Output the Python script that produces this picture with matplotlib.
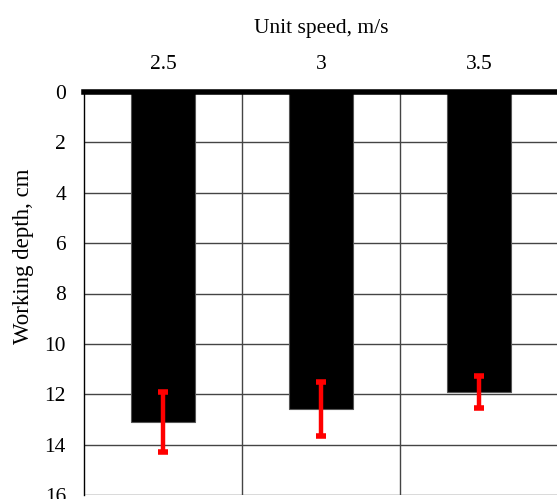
import numpy as np
import matplotlib.pyplot as plt

speeds = ["2.5", "3", "3.5"]
depth = [13.1, 12.6, 11.9]
err = [1.2, 1.07, 0.63]

plt.rcParams['font.family'] = ['Liberation Serif', 'DejaVu Serif']

fig = plt.figure(figsize=(5.57, 4.99), dpi=100)
ax = fig.add_axes([84/557, 4/499, 474/557, 403/499])

x = np.arange(len(speeds))
ax.bar(x, depth, width=0.4, color='black', edgecolor='#555555', linewidth=0.8, zorder=3)
ax.errorbar(x, depth, yerr=err, fmt='none', ecolor='red', elinewidth=3.2,
            capsize=3.5, capthick=4, zorder=4)

ax.set_xlim(-0.5, 2.5)
ax.set_ylim(16, 0)
ax.set_yticks(range(0, 17, 2))
ax.set_xticks(x)
ax.set_xticklabels(speeds)
ax.xaxis.tick_top()
ax.xaxis.set_label_position('top')
ax.set_xlabel("Unit speed, m/s", fontsize=15.5, labelpad=16)
ax.set_ylabel("Working depth, cm", fontsize=16.5)
ax.yaxis.set_label_coords(-0.106, 0.593)
ax.tick_params(axis='y', length=0, labelsize=15.5, pad=13)
ax.tick_params(axis='x', length=0, labelsize=15.5, pad=13)

ax.set_xticks([0.5, 1.5], minor=True)
ax.grid(True, axis='y', color='#444444', linewidth=1, zorder=0)
ax.grid(True, axis='x', which='minor', color='#444444', linewidth=1, zorder=0)
ax.tick_params(axis='x', which='minor', length=0)

ax.spines['right'].set_visible(False)
ax.spines['bottom'].set_visible(False)
ax.spines['left'].set_color('black')
ax.spines['left'].set_linewidth(1)
ax.spines['top'].set_linewidth(4)
ax.spines['top'].set_zorder(5)

fig.savefig("out.png", dpi=100)
